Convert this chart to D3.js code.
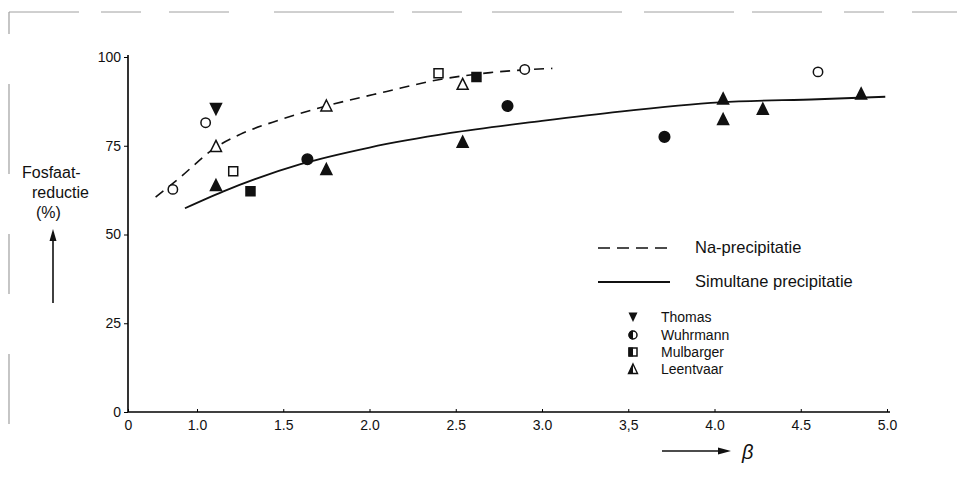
<!DOCTYPE html>
<html>
<head>
<meta charset="utf-8">
<script src="https://cdn.jsdelivr.net/npm/d3@7"></script>
<style>
  body { margin: 0; background: #fff; }
  text { font-family: "Liberation Sans", Arial, sans-serif; fill: #111; }
</style>
</head>
<body>
<script>
// Chart values
var xTicks = [0.6, 1.0, 1.5, 2.0, 2.5, 3.0, 3.5, 4.0, 4.5, 5.0];
var xTickLabels = ["0", "1.0", "1.5", "2.0", "2.5", "3.0", "3,5", "4.0", "4.5", "5.0"];
var yTicks = [0, 25, 50, 75, 100];

// Na-precipitatie (open markers) and Simultane precipitatie (filled markers)
var thomas = [[1.11, 85.5]];
var wuhrmannOpen = [[0.86, 62.7], [1.05, 81.5], [2.9, 96.5], [4.6, 95.8]];
var wuhrmannFilled = [[1.64, 71.2], [2.8, 86.2], [3.71, 77.5]];
var mulbargerOpen = [[1.21, 67.8], [2.4, 95.4]];
var mulbargerFilled = [[1.31, 62.2], [2.62, 94.4]];
var leentvaarOpen = [[1.11, 74.8], [1.75, 86.2], [2.54, 92.3]];
var leentvaarFilled = [[1.11, 63.8], [1.75, 68.3], [2.54, 76], [4.05, 88.2], [4.05, 82.4], [4.28, 85.3], [4.85, 89.6]];

// fitted curves
var naCurve = [[0.76, 60.5], [0.9, 66], [1.11, 74.6], [1.25, 78.2], [1.48, 82.3], [1.75, 86.2],
  [2.1, 90.3], [2.4, 93.6], [2.7, 95.6], [3.06, 96.8]];
var simCurve = [[0.93, 57.4], [1.15, 62.1], [1.6, 69.8], [2.0, 74.5], [2.47, 78.6], [3.0, 82],
  [3.45, 84.6], [4.03, 87.2], [4.6, 88.1], [4.99, 88.8]];

var legendLines = ["Na-precipitatie", "Simultane precipitatie"];
var legendMarks = ["Thomas", "Wuhrmann", "Mulbarger", "Leentvaar"];

var svgWidth = 957;
var svgHeight = 486;

var svg = d3.select("body")
  .append("svg")
  .attr("width", svgWidth)
  .attr("height", svgHeight);

// scanned page frame
svg.append("line")
  .attr("x1", 9).attr("y1", 12).attr("x2", 957).attr("y2", 12)
  .attr("stroke", "#a0a0a0").attr("stroke-width", 1)
  .attr("stroke-dasharray", "70,22,40,28,60,45,120,18,50,30,130,22,90,18");
svg.append("line")
  .attr("x1", 9).attr("y1", 12).attr("x2", 9).attr("y2", 486)
  .attr("stroke", "#a0a0a0").attr("stroke-width", 1.2)
  .attr("stroke-dasharray", "22,50,90,60,60,60,70,70,90");

// scales: the axis is broken, its origin (labelled 0) sits at 0.6
var x = d3.scaleLinear().domain([0.6, 5.0]).range([128, 887]);
var y = d3.scaleLinear().domain([0, 100]).range([412, 57]);

// axes
var bottomAxis = d3.axisBottom(x)
  .tickValues(xTicks)
  .tickSize(-3)
  .tickPadding(8)
  .tickFormat((d, i) => xTickLabels[i]);
var leftAxis = d3.axisLeft(y)
  .tickValues(yTicks)
  .tickSize(4)
  .tickPadding(3);

var gx = svg.append("g")
  .attr("transform", `translate(0, ${y(0)})`)
  .call(bottomAxis);
gx.select(".domain").attr("d", `M${x(0.6)},0H890`).attr("stroke-width", 1.6);
gx.selectAll("text").attr("font-size", 14).attr("font-family", "Liberation Sans, Arial, sans-serif").attr("fill", "#111");

var gy = svg.append("g")
  .attr("transform", `translate(${x(0.6)}, 0)`)
  .call(leftAxis);
gy.select(".domain").attr("d", `M0,${y(0)}V${y(100) - 2}`).attr("stroke-width", 1.6);
gy.selectAll("text").attr("font-size", 14).attr("font-family", "Liberation Sans, Arial, sans-serif").attr("fill", "#111");

// curves
var drawLine = d3.line()
  .x(d => x(d[0]))
  .y(d => y(d[1]))
  .curve(d3.curveMonotoneX);

svg.append("path")
  .attr("d", drawLine(naCurve))
  .attr("fill", "none")
  .attr("stroke", "#111")
  .attr("stroke-width", 1.6)
  .attr("stroke-dasharray", "10,7");

svg.append("path")
  .attr("d", drawLine(simCurve))
  .attr("fill", "none")
  .attr("stroke", "#111")
  .attr("stroke-width", 1.8);

// markers
var triUp = "M0,-6L5.5,5L-5.5,5Z";
var triDown = "M0,6L5.5,-5L-5.5,-5Z";
var square = "M-4.5,-4.5H4.5V4.5H-4.5Z";

function pathMarks(data, d, filled) {
  svg.append("g").selectAll("path")
    .data(data)
    .join("path")
    .attr("transform", p => `translate(${x(p[0])}, ${y(p[1])})`)
    .attr("d", d)
    .attr("fill", filled ? "#111" : "#fff")
    .attr("stroke", "#111")
    .attr("stroke-width", 1.5);
}
function circleMarks(data, filled) {
  svg.append("g").selectAll("circle")
    .data(data)
    .join("circle")
    .attr("cx", p => x(p[0]))
    .attr("cy", p => y(p[1]))
    .attr("r", filled ? 5.3 : 4.7)
    .attr("fill", filled ? "#111" : "#fff")
    .attr("stroke", "#111")
    .attr("stroke-width", 1.5);
}

circleMarks(wuhrmannOpen, false);
circleMarks(wuhrmannFilled, true);
pathMarks(mulbargerOpen, square, false);
pathMarks(mulbargerFilled, square, true);
pathMarks(leentvaarOpen, triUp, false);
pathMarks(leentvaarFilled, triUp, true);
pathMarks(thomas, triDown, true);

// legend: line samples
var legend = svg.append("g");
legend.append("line")
  .attr("x1", 598).attr("x2", 670).attr("y1", 248).attr("y2", 248)
  .attr("stroke", "#111").attr("stroke-width", 1.6).attr("stroke-dasharray", "12,7");
legend.append("line")
  .attr("x1", 598).attr("x2", 670).attr("y1", 282).attr("y2", 282)
  .attr("stroke", "#111").attr("stroke-width", 1.8);
legend.selectAll("text.ln")
  .data(legendLines)
  .join("text")
  .attr("class", "ln")
  .attr("x", 695)
  .attr("y", (d, i) => 253 + i * 34)
  .attr("font-size", 16.5)
  .text(d => d);

// legend: marker rows with half filled symbols
var rowY = [317, 335, 352, 369];
legend.selectAll("text.mk")
  .data(legendMarks)
  .join("text")
  .attr("class", "mk")
  .attr("x", 661)
  .attr("y", (d, i) => rowY[i] + 5)
  .attr("font-size", 14)
  .text(d => d);

var mx = 633;
legend.append("path").attr("transform", `translate(${mx}, ${rowY[0]})`)
  .attr("d", "M0,5L4.5,-4.5L-4.5,-4.5Z").attr("fill", "#111");
// circle, left half filled
legend.append("circle").attr("cx", mx).attr("cy", rowY[1]).attr("r", 4)
  .attr("fill", "#fff").attr("stroke", "#111").attr("stroke-width", 1.5);
legend.append("path").attr("transform", `translate(${mx}, ${rowY[1]})`)
  .attr("d", "M0,-4.5A4.5,4.5 0 0 0 0,4.5Z").attr("fill", "#111");
// square, left half filled
legend.append("path").attr("transform", `translate(${mx}, ${rowY[2]})`)
  .attr("d", "M-4,-4H4V4H-4Z").attr("fill", "#fff").attr("stroke", "#111").attr("stroke-width", 1.5);
legend.append("path").attr("transform", `translate(${mx}, ${rowY[2]})`)
  .attr("d", "M-4.5,-4.5H0V4.5H-4.5Z").attr("fill", "#111");
// triangle, left half filled
legend.append("path").attr("transform", `translate(${mx}, ${rowY[3]})`)
  .attr("d", "M0,-5L4.5,4.5L-4.5,4.5Z").attr("fill", "#fff").attr("stroke", "#111").attr("stroke-width", 1.4);
legend.append("path").attr("transform", `translate(${mx}, ${rowY[3]})`)
  .attr("d", "M0,-5L0,4.5L-4.5,4.5Z").attr("fill", "#111");

// axis titles with arrows
var yTitle = ["Fosfaat-", "reductie", "(%)"];
svg.selectAll("text.yt")
  .data(yTitle)
  .join("text")
  .attr("class", "yt")
  .attr("x", (d, i) => [22, 32, 36][i])
  .attr("y", (d, i) => 178 + i * 20)
  .attr("font-size", 16)
  .text(d => d);

svg.append("line")
  .attr("x1", 53).attr("x2", 53).attr("y1", 303).attr("y2", 240)
  .attr("stroke", "#111").attr("stroke-width", 1.6);
svg.append("path")
  .attr("d", "M53,229L49.5,241L56.5,241Z").attr("fill", "#111");

svg.append("line")
  .attr("x1", 662).attr("x2", 720).attr("y1", 451).attr("y2", 451)
  .attr("stroke", "#111").attr("stroke-width", 1.6);
svg.append("path")
  .attr("d", "M731,451L718,447.5L718,454.5Z").attr("fill", "#111");
svg.append("text")
  .attr("x", 742).attr("y", 459)
  .attr("font-size", 20)
  .attr("font-style", "italic")
  .text("β");
</script>
</body>
</html>
